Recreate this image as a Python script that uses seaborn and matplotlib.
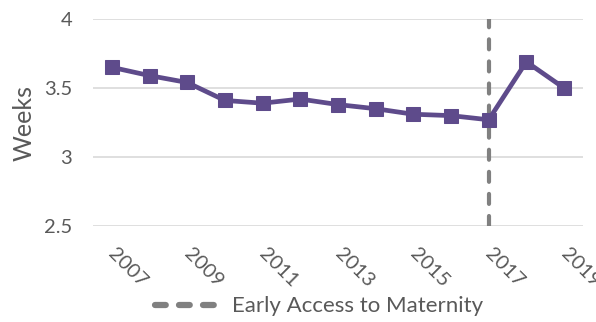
import matplotlib
matplotlib.use("Agg")
import matplotlib.pyplot as plt
import matplotlib.transforms as mtransforms
from matplotlib.lines import Line2D
import seaborn as sns
import pandas as pd

years = [2007, 2008, 2009, 2010, 2011, 2012, 2013, 2014, 2015, 2016, 2017, 2018, 2019]
weeks = [3.65, 3.59, 3.54, 3.41, 3.39, 3.42, 3.38, 3.35, 3.31, 3.30, 3.27, 3.69, 3.50]
tick_years = [2007, 2009, 2011, 2013, 2015, 2017, 2019]
policy_year = 2017
policy_label = "Early Access to Maternity"

sns.set_theme(style="white")
plt.rcParams["font.family"] = ["Lato", "DejaVu Sans"]

text_grey = "#595959"
purple = "#5E4B8B"
dash_grey = "#808080"

df = pd.DataFrame({"Year": years, "Weeks": weeks})

fig = plt.figure(figsize=(5.96, 3.22), dpi=100)
ax = fig.add_axes([0.156, 0.298, 0.822, 0.643])

for y in [2.5, 3.0, 3.5, 4.0]:
    ax.axhline(y, color="#d9d9d9", lw=1.2, zorder=0)

sns.lineplot(data=df, x="Year", y="Weeks", ax=ax, color=purple, lw=3.4,
             marker="s", markersize=10.5, markeredgecolor=purple, zorder=3)

ax.axvline(policy_year, color=dash_grey, lw=3.0, ls=(0, (2.4, 2.9)),
           dash_capstyle="round", zorder=2)

ax.set_xlim(min(years) - 0.5, max(years) + 0.5)
ax.set_ylim(2.5, 4.0)
ax.set_yticks([2.5, 3.0, 3.5, 4.0])
ax.set_yticklabels(["2.5", "3", "3.5", "4"])
ax.set_xticks(tick_years)
ax.set_xticklabels([str(y) for y in tick_years], rotation=-45, ha="left",
                   va="top", rotation_mode="anchor")
ax.tick_params(axis="x", length=0, pad=14, labelsize=14.5, labelcolor=text_grey)
ax.tick_params(axis="y", length=0, pad=15, labelsize=14.5, labelcolor=text_grey)
shift = mtransforms.ScaledTranslation(4 / 72, 0, fig.dpi_scale_trans)
for lbl in ax.get_xticklabels():
    lbl.set_transform(lbl.get_transform() + shift)
for s in ax.spines.values():
    s.set_visible(False)

ax.set_xlabel("")
ax.set_ylabel("Weeks", fontsize=18, color=text_grey, labelpad=6)

handle = Line2D([], [], color=dash_grey, lw=4.5, ls=(0, (1.72, 2.12)),
                dash_capstyle="round")
leg = fig.legend(handles=[handle], labels=[policy_label], loc="lower center",
                 bbox_to_anchor=(0.535, -0.045), frameon=False, fontsize=16,
                 handlelength=2.75, handletextpad=0.7)
for t in leg.get_texts():
    t.set_color(text_grey)

fig.savefig("out.png", dpi=100)
